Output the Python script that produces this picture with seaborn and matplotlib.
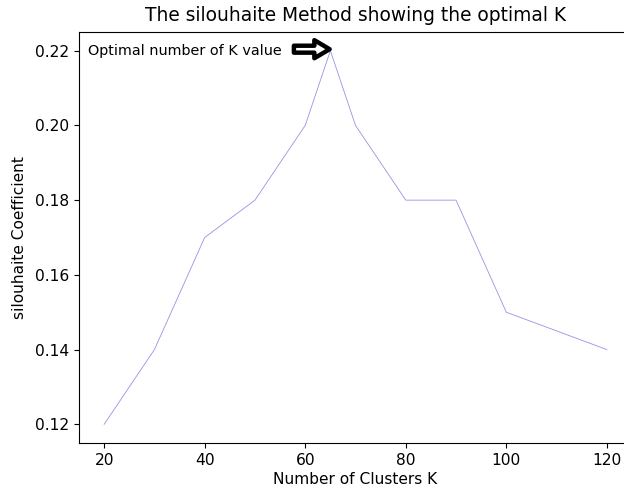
import matplotlib
matplotlib.use("Agg")
import matplotlib.pyplot as plt
import seaborn as sns
import pandas as pd

k_values = [20, 30, 40, 50, 60, 65, 70, 80, 90, 100, 120]
silhouette = [0.12, 0.14, 0.17, 0.18, 0.20, 0.22, 0.20, 0.18, 0.18, 0.15, 0.14]
title = "The silouhaite Method showing the optimal K"
xlabel = "Number of Clusters K"
ylabel = "silouhaite Coefficient"
note = "Optimal number of K value"
best_k, best_s = 65, 0.22
y_ticks = [0.12, 0.14, 0.16, 0.18, 0.20, 0.22]
x_ticks = [20, 40, 60, 80, 100, 120]

plt.rcParams['font.family'] = ['DejaVu Sans']

fig = plt.figure(figsize=(6.24, 4.91), dpi=100)
ax = fig.add_axes([79/624, 48/491, (632-79)/624, (443-32)/491])
df = pd.DataFrame({"k": k_values, "s": silhouette})
sns.lineplot(data=df, x="k", y="s", ax=ax, color="#9494e4", linewidth=0.6)
ax.set_xlim(15, 125)
ax.set_ylim(0.115, 0.225)
ax.set_xticks(x_ticks)
ax.set_yticks(y_ticks)
ax.set_yticklabels([f"{v:.2f}" for v in y_ticks])
ax.tick_params(labelsize=11.2, colors="black")
ax.set_title(title, fontsize=13.4, pad=8)
ax.set_xlabel(xlabel, fontsize=11.1, labelpad=3)
ax.set_ylabel(ylabel, fontsize=11.1, labelpad=6)
ax.text(16.8, 0.22, note, fontsize=10.4, va="center")
ax.annotate("", xy=(best_k, best_s + 0.0004), xytext=(57.6, best_s + 0.0004),
            arrowprops=dict(facecolor="white", edgecolor="black", lw=3.2,
                            width=5, headwidth=13, headlength=11, shrink=0.02))
fig.savefig("out.png", dpi=100)
